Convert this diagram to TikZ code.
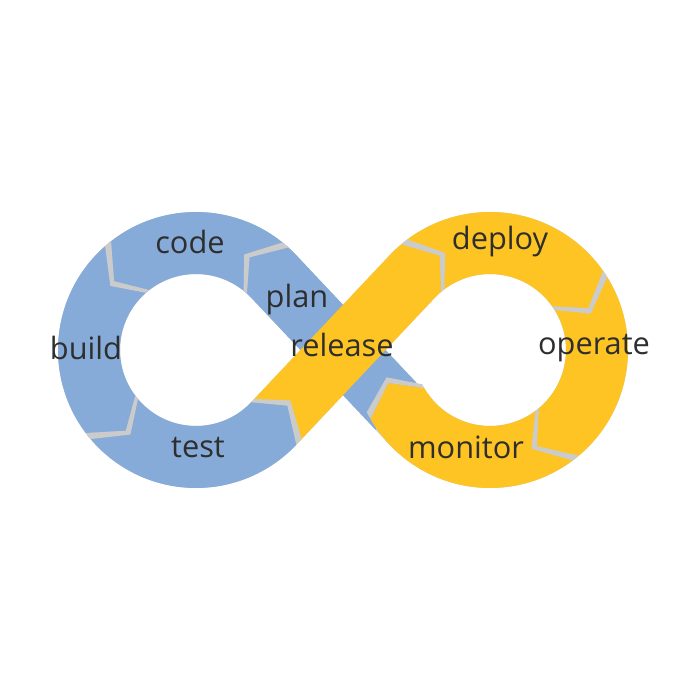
\documentclass[tikz,border=0pt]{standalone}
\usepackage{fontspec}
\setmainfont{Open Sans}
\usetikzlibrary{calc}

\definecolor{devblue}{HTML}{86ABD9}
\definecolor{devyellow}{HTML}{FDC423}
\definecolor{devtext}{HTML}{2E2E2E}
\definecolor{devshade}{HTML}{CBCBCB}

\def\rin{76}
\def\rmid{107}
\def\rout{138}

% arc piece of a ring: [colour] centre, tail angle, head angle, tip offset
\newcommand{\ringseg}[5][]{%
  \fill[#1, shift={(#2)}] (#3:\rout) arc[start angle=#3, end angle=#4, radius=\rout]
    -- ({#4+#5}:\rmid) -- (#4:\rin) arc[start angle=#4, end angle=#3, radius=\rin]
    -- ({#3+#5}:\rmid) -- cycle;}

% shadow cast by a head onto the next piece: centre, head angle, tip offset, gap
\newcommand{\jointshade}[4]{%
  \fill[devshade, shift={(#1)}] (#2:\rout) -- ({#2+#3}:\rmid) -- (#2:\rin)
    -- ({#2+#4}:\rin) -- ({#2+#3+#4}:\rmid) -- ({#2+#4}:\rout) -- cycle;}

\begin{document}
\begin{tikzpicture}[x=0.02cm, y=0.02cm,
    lbl/.style={font=\fontsize{17.5}{20}\selectfont, text=devtext, inner sep=0pt}]

  \useasboundingbox (0,0) rectangle (700,700);

  \coordinate (lc) at (196,350);
  \coordinate (rc) at (490,350);

  % band corners
  \coordinate (pa) at ($(lc)+(43.3:\rout)$);
  \coordinate (pb) at ($(rc)+(223.3:\rin)$);
  \coordinate (pc) at ($(lc)+(43.3:\rin)$);
  \coordinate (pd) at ($(rc)+(223.3:\rout)$);
  \coordinate (pm1) at ($(lc)+(43.3:\rmid)$);
  \coordinate (pm2) at ($(rc)+(223.3:\rmid)$);
  \coordinate (qa) at ($(lc)+(316.7:\rout)$);
  \coordinate (qb) at ($(rc)+(136.7:\rin)$);
  \coordinate (qc) at ($(lc)+(316.7:\rin)$);
  \coordinate (qd) at ($(rc)+(136.7:\rout)$);
  \coordinate (qm1) at ($(lc)+(316.7:\rmid)$);
  \coordinate (qm2) at ($(rc)+(136.7:\rmid)$);

  % drop shadow
  \begin{scope}[shift={(5,-5)}]
    \fill[devshade] (pa) arc[start angle=43.3, end angle=316.7, radius=\rout]
      -- (qc) arc[start angle=316.7, end angle=43.3, radius=\rin] -- cycle;
    \fill[devshade] (qd) arc[start angle=136.7, end angle=-150, radius=\rout]
      -- ($(rc)+(-150:\rin)$) arc[start angle=-150, end angle=136.7, radius=\rin] -- cycle;
    \fill[devshade] (pa) -- (pb) -- (pd) -- (pc) -- cycle;
    \fill[devshade] (qa) -- (qb) -- (qd) -- (qc) -- cycle;
  \end{scope}

  % plan
  \fill[devblue] ($(pc)!0.9!(pd)$) -- ($(pm1)!0.78!(pm2)$) -- ($(pa)!0.9!(pb)$) -- (pa)
    arc[start angle=43.3, end angle=48, radius=\rout] -- ($(lc)+(60:\rmid)$)
    -- ($(lc)+(48:\rin)$) arc[start angle=48, end angle=43.3, radius=\rin] -- cycle;
  % release
  \fill[devyellow] (qc) -- ($(qm1)!0.111!(qm2)$) -- (qa) -- (qb)
    arc[start angle=136.7, end angle=130, radius=\rin] -- ($(rc)+(118:\rmid)$)
    -- ($(rc)+(130:\rout)$) arc[start angle=130, end angle=136.7, radius=\rout] -- cycle;

  \ringseg[devblue]{lc}{48}{128}{12}
  \ringseg[devblue]{lc}{128}{217}{12}
  \ringseg[devblue]{lc}{217}{316.7}{12}
  \ringseg[devyellow]{rc}{130}{35}{-12}
  \ringseg[devyellow]{rc}{35}{-50}{-14}
  \ringseg[devyellow]{rc}{-50}{-150}{-12}

  \jointshade{lc}{48}{12}{3.2}
  \jointshade{lc}{128}{12}{3.2}
  \jointshade{lc}{217}{12}{3.2}
  \jointshade{lc}{316.7}{12}{3.2}
  \jointshade{rc}{130}{-12}{-3.2}
  \jointshade{rc}{35}{-12}{-3.2}
  \jointshade{rc}{-50}{-14}{-3.2}
  \jointshade{rc}{-150}{-12}{-3.2}

  \node[lbl] (code) at (190,458) {code};
  \node[lbl] (plan) at (297,400) {plan};
  \node[lbl] (build) at (86,352) {build};
  \node[lbl] (release) at (342,355) {release};
  \node[lbl] (test) at (198,252) {test};
  \node[lbl] (deploy) at (500,458) {deploy};
  \node[lbl] (operate) at (594,352) {operate};
  \node[lbl] (monitor) at (466,253) {monitor};
\end{tikzpicture}
\end{document}
